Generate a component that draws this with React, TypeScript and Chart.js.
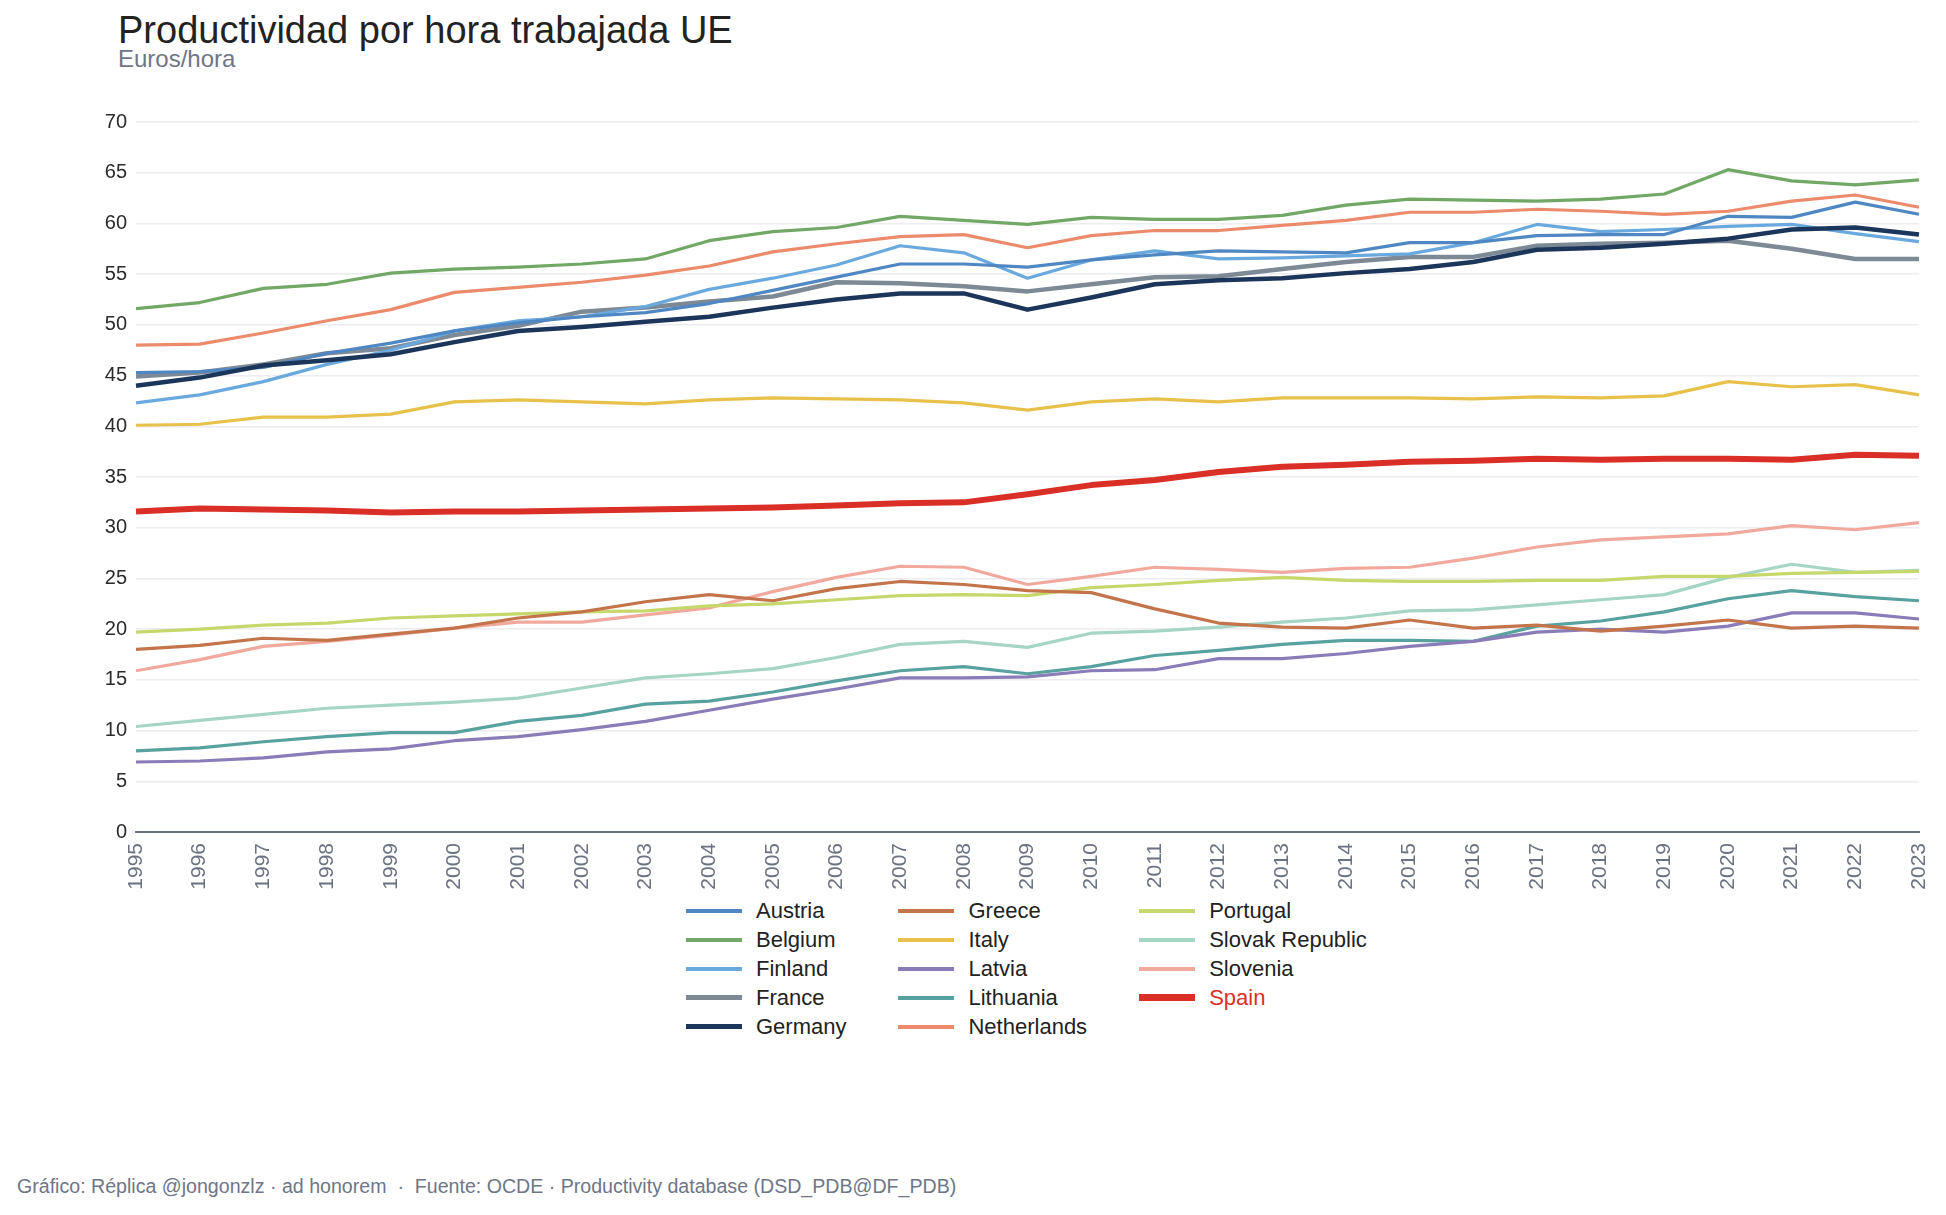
import React, { useEffect, useRef } from "react";
import { Chart, registerables } from "chart.js";

Chart.register(...registerables);

// Productividad por hora trabajada, euros por hora (OCDE)
const years = [
  "1995", "1996", "1997", "1998", "1999", "2000", "2001", "2002", "2003", "2004",
  "2005", "2006", "2007", "2008", "2009", "2010", "2011", "2012", "2013", "2014",
  "2015", "2016", "2017", "2018", "2019", "2020", "2021", "2022", "2023",
];

const austria = [45.3, 45.4, 45.8, 47.2, 48.2, 49.4, 50.2, 50.8, 51.2, 52.1, 53.4, 54.7, 56.0, 56.0, 55.7, 56.4, 56.9, 57.3, 57.2, 57.1, 58.1, 58.1, 58.8, 58.9, 58.9, 60.7, 60.6, 62.1, 60.9];
const belgium = [51.6, 52.2, 53.6, 54.0, 55.1, 55.5, 55.7, 56.0, 56.5, 58.3, 59.2, 59.6, 60.7, 60.3, 59.9, 60.6, 60.4, 60.4, 60.8, 61.8, 62.4, 62.3, 62.2, 62.4, 62.9, 65.3, 64.2, 63.8, 64.3];
const finland = [42.3, 43.1, 44.4, 46.1, 47.5, 49.4, 50.4, 50.8, 51.8, 53.5, 54.6, 55.9, 57.8, 57.1, 54.6, 56.4, 57.3, 56.5, 56.6, 56.8, 57.0, 58.1, 59.9, 59.2, 59.4, 59.7, 59.9, 59.0, 58.2];
const france = [44.9, 45.3, 46.1, 47.2, 47.7, 49.0, 49.9, 51.3, 51.7, 52.3, 52.8, 54.2, 54.1, 53.8, 53.3, 54.0, 54.7, 54.8, 55.5, 56.2, 56.7, 56.7, 57.8, 58.0, 58.1, 58.3, 57.5, 56.5, 56.5];
const germany = [44.0, 44.8, 46.0, 46.5, 47.1, 48.3, 49.4, 49.8, 50.3, 50.8, 51.7, 52.5, 53.1, 53.1, 51.5, 52.7, 54.0, 54.4, 54.6, 55.1, 55.5, 56.2, 57.4, 57.6, 58.0, 58.5, 59.4, 59.6, 58.9];
const greece = [18.0, 18.4, 19.1, 18.9, 19.5, 20.1, 21.1, 21.7, 22.7, 23.4, 22.8, 24.0, 24.7, 24.4, 23.8, 23.6, 22.0, 20.6, 20.2, 20.1, 20.9, 20.1, 20.4, 19.8, 20.3, 20.9, 20.1, 20.3, 20.1];
const italy = [40.1, 40.2, 40.9, 40.9, 41.2, 42.4, 42.6, 42.4, 42.2, 42.6, 42.8, 42.7, 42.6, 42.3, 41.6, 42.4, 42.7, 42.4, 42.8, 42.8, 42.8, 42.7, 42.9, 42.8, 43.0, 44.4, 43.9, 44.1, 43.1];
const latvia = [6.9, 7.0, 7.3, 7.9, 8.2, 9.0, 9.4, 10.1, 10.9, 12.0, 13.1, 14.1, 15.2, 15.2, 15.3, 15.9, 16.0, 17.1, 17.1, 17.6, 18.3, 18.8, 19.7, 20.0, 19.7, 20.3, 21.6, 21.6, 21.0];
const lithuania = [8.0, 8.3, 8.9, 9.4, 9.8, 9.8, 10.9, 11.5, 12.6, 12.9, 13.8, 14.9, 15.9, 16.3, 15.6, 16.3, 17.4, 17.9, 18.5, 18.9, 18.9, 18.8, 20.3, 20.8, 21.7, 23.0, 23.8, 23.2, 22.8];
const netherlands = [48.0, 48.1, 49.2, 50.4, 51.5, 53.2, 53.7, 54.2, 54.9, 55.8, 57.2, 58.0, 58.7, 58.9, 57.6, 58.8, 59.3, 59.3, 59.8, 60.3, 61.1, 61.1, 61.4, 61.2, 60.9, 61.2, 62.2, 62.8, 61.6];
const portugal = [19.7, 20.0, 20.4, 20.6, 21.1, 21.3, 21.5, 21.7, 21.8, 22.3, 22.5, 22.9, 23.3, 23.4, 23.3, 24.1, 24.4, 24.8, 25.1, 24.8, 24.7, 24.7, 24.8, 24.8, 25.2, 25.2, 25.5, 25.6, 25.7];
const slovakRepublic = [10.4, 11.0, 11.6, 12.2, 12.5, 12.8, 13.2, 14.2, 15.2, 15.6, 16.1, 17.2, 18.5, 18.8, 18.2, 19.6, 19.8, 20.2, 20.7, 21.1, 21.8, 21.9, 22.4, 22.9, 23.4, 25.1, 26.4, 25.6, 25.8];
const slovenia = [15.9, 17.0, 18.3, 18.8, 19.4, 20.1, 20.7, 20.7, 21.4, 22.1, 23.7, 25.1, 26.2, 26.1, 24.4, 25.2, 26.1, 25.9, 25.6, 26.0, 26.1, 27.0, 28.1, 28.8, 29.1, 29.4, 30.2, 29.8, 30.5];
const spain = [31.6, 31.9, 31.8, 31.7, 31.5, 31.6, 31.6, 31.7, 31.8, 31.9, 32.0, 32.2, 32.4, 32.5, 33.3, 34.2, 34.7, 35.5, 36.0, 36.2, 36.5, 36.6, 36.8, 36.7, 36.8, 36.8, 36.7, 37.2, 37.1];

const countries = [
  "Austria", "Belgium", "Finland", "France", "Germany",
  "Greece", "Italy", "Latvia", "Lithuania", "Netherlands",
  "Portugal", "Slovak Republic", "Slovenia", "Spain",
];
const seriesValues = [
  austria, belgium, finland, france, germany,
  greece, italy, latvia, lithuania, netherlands,
  portugal, slovakRepublic, slovenia, spain,
];

const yTicks = [0, 5, 10, 15, 20, 25, 30, 35, 40, 45, 50, 55, 60, 65, 70];

const titleText = "Productividad por hora trabajada UE";
const subtitleText = "Euros/hora";
const footerText =
  "Gráfico: Réplica @jongonzlz · ad honorem  ·  Fuente: OCDE · Productivity database (DSD_PDB@DF_PDB)";

// Line styling per country
const lineColor: Record<string, string> = {
  Austria: "#4f87c3",
  Belgium: "#71a865",
  Finland: "#6aa9dd",
  France: "#7e8996",
  Germany: "#1b365a",
  Greece: "#c4744b",
  Italy: "#e8c14a",
  Latvia: "#8a7bb9",
  Lithuania: "#57a19e",
  Netherlands: "#ec8a6c",
  Portugal: "#c6d86c",
  "Slovak Republic": "#a5d5c3",
  Slovenia: "#f2a99d",
  Spain: "#d92f27",
};
const lineWidth: Record<string, number> = {
  France: 4.5,
  Germany: 4.5,
  Spain: 6,
};
const widthOf = (name: string) => lineWidth[name] ?? 3.2;

const FONT = '"Liberation Sans", Arial, Helvetica, sans-serif';

export default function App() {
  const canvasRef = useRef<HTMLCanvasElement | null>(null);

  useEffect(() => {
    const canvas = canvasRef.current;
    if (!canvas) return;
    Chart.defaults.font.family = FONT;

    const chart = new Chart(canvas, {
      type: "line",
      data: {
        labels: years,
        datasets: countries.map((name, i) => ({
          label: name,
          data: seriesValues[i],
          borderColor: lineColor[name],
          backgroundColor: lineColor[name],
          borderWidth: widthOf(name),
          pointRadius: 0,
          pointHoverRadius: 0,
          tension: 0,
          fill: false,
          borderJoinStyle: "round" as const,
          order: name === "Spain" ? -2 : name === "Germany" ? -1 : i,
        })),
      },
      options: {
        responsive: false,
        animation: false,
        events: [],
        layout: { padding: { top: 30, right: 19, bottom: 0, left: 0 } },
        plugins: {
          legend: { display: false },
          tooltip: { enabled: false },
          title: { display: false },
        },
        scales: {
          x: {
            type: "category",
            offset: false,
            grid: { display: false, drawTicks: false },
            border: { display: true, color: "#6b7282", width: 2 },
            ticks: {
              autoSkip: false,
              minRotation: 90,
              maxRotation: 90,
              padding: 11,
              color: "#6b7282",
              font: { size: 21, family: FONT },
            },
            afterFit: (scale: any) => {
              scale.height = 60;
              scale.paddingLeft = 0;
              scale.paddingRight = 0;
            },
          },
          y: {
            type: "linear",
            min: 0,
            max: 70,
            afterBuildTicks: (scale: any) => {
              scale.ticks = yTicks.map((v) => ({ value: v }));
            },
            grid: { color: "#ececf1", lineWidth: 1.5, drawTicks: false },
            border: { display: false },
            ticks: {
              padding: 9,
              color: "#2b2b2b",
              font: { size: 20, family: FONT },
            },
            afterFit: (scale: any) => {
              scale.width = 128;
            },
          },
        },
      },
    });

    return () => chart.destroy();
  }, []);

  const columns: string[][] = [];
  for (let i = 0; i < countries.length; i += 5) columns.push(countries.slice(i, i + 5));

  return (
    <div
      style={{
        position: "relative",
        width: 1930,
        height: 1199,
        fontFamily: FONT,
        background: "#ffffff",
        overflow: "hidden",
      }}
    >
      <div
        style={{
          position: "absolute",
          left: 110,
          top: 3,
          fontSize: 38,
          lineHeight: "38px",
          color: "#222222",
          whiteSpace: "nowrap",
        }}
      >
        {titleText}
      </div>
      <div
        style={{
          position: "absolute",
          left: 110,
          top: 39,
          fontSize: 24,
          lineHeight: "24px",
          color: "#6e7687",
          whiteSpace: "nowrap",
        }}
      >
        {subtitleText}
      </div>

      <canvas
        ref={canvasRef}
        width={1930}
        height={800}
        style={{ position: "absolute", left: 0, top: 84, width: 1930, height: 800 }}
      />

      <div
        style={{
          position: "absolute",
          left: 678,
          top: 888,
          display: "flex",
          gap: 52,
        }}
      >
        {columns.map((col, ci) => (
          <div key={ci} style={{ display: "flex", flexDirection: "column" }}>
            {col.map((name) => (
              <div
                key={name}
                style={{ display: "flex", alignItems: "center", height: 29 }}
              >
                <div
                  style={{
                    width: 56,
                    height: widthOf(name) + 0.8,
                    background: lineColor[name],
                    marginRight: 14,
                  }}
                />
                <span
                  style={{
                    fontSize: 22,
                    lineHeight: "29px",
                    color: name === "Spain" ? lineColor[name] : "#222222",
                    whiteSpace: "nowrap",
                  }}
                >
                  {name}
                </span>
              </div>
            ))}
          </div>
        ))}
      </div>

      <div
        style={{
          position: "absolute",
          left: 9,
          top: 1168,
          fontSize: 19.6,
          lineHeight: "20px",
          color: "#6e7687",
          whiteSpace: "pre",
        }}
      >
        {footerText}
      </div>
    </div>
  );
}
